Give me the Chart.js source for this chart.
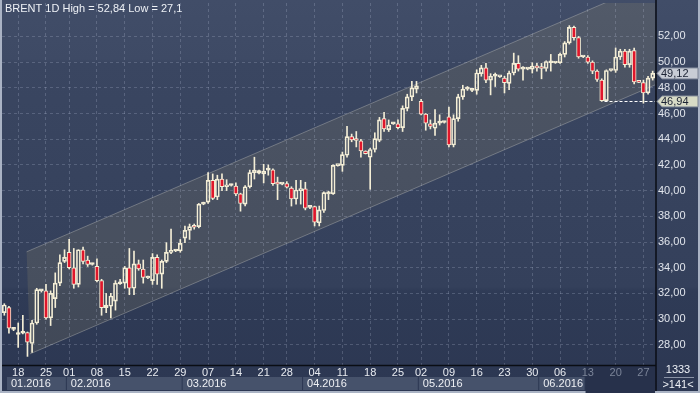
<!DOCTYPE html>
<html><head><meta charset="utf-8">
<script src="https://cdn.jsdelivr.net/npm/chart.js@4"></script>
<style>html,body{margin:0;padding:0;background:#aab3c4;overflow:hidden}canvas{display:block}</style>
</head><body>
<canvas id="c" width="700" height="393"></canvas>
<script>
const openP  = [30.5,30.9,29.2,28.8,28.9,28.95,28.1,29.7,32.2,32.2,30.1,31.6,32.8,34.5,35.2,34.0,32.7,35.4,34.6,34.25,34.1,33.0,30.9,31.0,31.4,32.75,32.8,34.0,32.4,34.3,33.9,33.2,33.0,34.8,33.5,34.5,35.2,35.3,35.3,36.3,36.9,37.2,37.2,38.95,39.1,40.8,39.5,40.9,40.3,40.4,40.35,39.75,38.95,40.3,41.4,41.35,41.3,41.6,41.62,40.55,40.5,40.55,40.2,39.35,40.0,40.13,38.7,38.75,37.5,38.45,39.75,39.75,41.95,41.96,42.75,44.2,43.95,43.87,43.08,42.6,43.2,43.9,45.6,44.75,45.2,45.2,44.9,46.4,47.3,47.9,46.95,45.95,45.2,44.85,45.25,45.3,45.75,43.55,45.6,47.3,47.9,47.8,47.8,49.1,49.55,48.6,48.9,48.85,48.75,48.35,49.15,49.9,49.45,49.45,49.45,49.7,49.6,49.5,49.95,49.93,49.95,50.6,51.5,52.7,51.9,50.4,50.4,50.0,49.3,48.6,47.0,49.35,49.35,50.4,50.85,49.8,50.9,48.45,48.4,47.6,48.75];
const highP  = [31.2,31.0,29.3,29.7,30.3,29.0,29.9,32.4,32.3,32.7,32.2,33.6,35.0,35.4,36.2,35.5,35.4,35.6,34.9,34.35,34.7,33.1,32.0,32.0,33.0,33.1,34.1,35.5,35.3,34.6,34.6,33.35,35.1,35.0,34.6,35.95,37.0,35.4,36.2,37.25,37.4,37.4,39.0,39.1,41.4,41.3,41.2,41.3,40.85,40.5,40.6,39.8,40.4,41.6,42.6,41.6,42.05,42.0,41.7,41.05,40.55,40.7,40.3,40.8,40.8,40.65,38.8,38.8,38.8,39.9,39.95,42.0,42.0,43.0,45.0,44.4,44.6,44.0,43.1,43.3,44.5,45.7,46.1,45.5,45.3,45.5,46.6,47.5,48.5,48.5,47.1,46.0,45.5,46.3,45.9,45.4,46.5,45.9,47.5,48.2,48.1,47.9,49.4,49.75,49.9,49.1,49.15,48.9,48.9,49.3,50.7,50.5,49.65,49.5,49.95,49.9,49.9,50.1,50.6,49.98,50.7,51.6,52.84,52.8,52.0,50.45,50.5,50.1,49.4,48.7,49.4,49.4,51.1,51.0,51.0,51.0,51.1,48.5,48.6,48.9,49.3];
const lowP   = [30.3,28.9,29.1,27.8,28.85,27.1,27.4,29.6,32.1,30.0,29.5,30.9,32.6,34.4,33.9,32.4,32.5,34.3,34.1,34.2,32.9,30.3,30.5,30.1,30.7,32.7,32.4,31.9,31.9,33.8,32.8,33.15,32.7,32.7,32.4,34.4,35.1,35.25,35.2,35.95,36.2,37.0,37.1,38.9,39.0,39.3,39.3,40.0,40.0,40.35,39.6,38.4,38.8,40.2,40.9,41.3,40.6,41.2,40.4,39.3,40.45,40.2,38.8,38.95,38.95,38.5,38.6,37.25,37.25,38.3,39.3,39.7,41.9,41.5,42.6,43.8,43.4,42.6,42.85,40.1,43.0,43.8,44.6,44.6,45.15,44.8,44.6,46.2,47.0,47.6,45.9,44.7,44.8,44.3,45.1,45.25,43.4,43.4,45.4,47.1,47.8,47.7,47.5,48.9,48.4,47.45,48.1,48.8,47.6,47.85,49.0,49.3,48.6,49.4,49.15,49.3,48.7,49.3,49.3,49.9,49.9,50.4,51.4,51.7,50.3,50.35,49.9,49.1,48.5,46.94,46.95,49.3,49.2,50.2,49.6,49.6,48.3,48.4,46.8,47.5,48.6];
const closeP = [31.1,29.3,29.25,28.85,28.95,28.2,29.7,32.3,32.25,30.1,32.0,32.8,34.4,34.8,34.0,32.7,35.4,34.5,34.25,34.3,33.0,30.9,31.1,31.8,32.8,32.8,34.0,32.4,34.3,33.9,33.25,33.3,34.8,33.5,34.5,35.2,35.3,35.35,35.9,36.9,37.2,37.15,38.95,39.0,40.8,39.4,40.9,40.3,40.45,40.45,39.75,39.0,40.3,41.4,41.6,41.55,41.5,41.62,40.55,40.5,40.52,40.26,39.35,40.05,40.13,38.64,38.75,37.55,38.5,39.85,39.82,41.96,41.98,42.8,44.2,43.95,43.9,43.08,42.87,43.2,44.05,45.5,44.8,45.1,45.25,44.9,46.4,47.3,48.0,48.15,45.95,45.25,45.0,45.25,45.3,45.33,43.55,45.6,47.3,47.9,47.95,47.85,49.15,49.55,48.6,48.9,48.95,48.88,48.4,49.15,49.9,49.45,49.5,49.48,49.7,49.55,49.5,50.05,50.0,49.95,50.6,51.5,52.7,51.9,50.4,50.42,50.0,49.3,48.65,47.0,49.35,49.38,50.4,50.85,49.8,50.85,48.45,48.42,47.6,48.75,49.12];

const tickIdx  = [3,9,14,20,26,32,38,44,50,56,61,67,73,79,85,90,96,102,108,114,120,126,132,138];
const tickDays = ['18','25','01','08','15','22','29','07','14','21','28','04','11','18','25','02','09','16','23','30','06','13','20','27'];
const monthNames = ['01.2016','02.2016','03.2016','04.2016','05.2016','06.2016'];
const monthStart = [0,14,39,65,90,116];
const yTicks = [28,30,32,34,36,38,40,42,44,46,48,50,52];
const dimFrom = 126;
const lastPrice = 49.12;
const stopPrice = 46.94;
const stopFrom = 129.6;
const chUpper = [4.82, 35.24];
const chLower = [5.53, 27.29];
const chSlope = 0.1551;

const N = openP.length;
const labels = Array.from({length:N},(_,i)=>{const k=tickIdx.indexOf(i);return k>=0?tickDays[k]:'';});
const bodies = openP.map((o,i)=>[o,closeP[i]]);
const upW = highP.map((h,i)=>[Math.max(openP[i],closeP[i]),h]);
const loW = lowP.map((l,i)=>[l,Math.min(openP[i],closeP[i])]);
const CREAM = '#f4eed6', RED = '#e0162b';

const fmt = v => v.toFixed(2).replace('.',',');

const decor = {
  id:'decor',
  beforeDraw(chart){
    const {ctx, chartArea:a, scales:{x,y}} = chart;
    ctx.save();
    ctx.fillStyle = '#aab3c4'; ctx.fillRect(0,0,700,393);
    const g = ctx.createLinearGradient(0,0,0,393);
    g.addColorStop(0,'#414d68'); g.addColorStop(0.15,'#3e4a65');
    g.addColorStop(0.16,'#3a4661'); g.addColorStop(0.73,'#34405b');
    g.addColorStop(0.74,'#2f3b56'); g.addColorStop(1,'#2c3752');
    ctx.fillStyle = g; ctx.fillRect(2,0,696,391);
    ctx.beginPath();
    ctx.rect(a.left,a.top,a.right-a.left,a.bottom-a.top); ctx.clip();
    const xe = N+2;
    const ux0=x.getPixelForValue(chUpper[0]), uy0=y.getPixelForValue(chUpper[1]);
    const ux1=x.getPixelForValue(xe), uy1=y.getPixelForValue(chUpper[1]+chSlope*(xe-chUpper[0]));
    const lx0=x.getPixelForValue(chLower[0]), ly0=y.getPixelForValue(chLower[1]);
    const lx1=x.getPixelForValue(xe), ly1=y.getPixelForValue(chLower[1]+chSlope*(xe-chLower[0]));
    ctx.beginPath(); ctx.moveTo(ux0,uy0); ctx.lineTo(ux1,uy1); ctx.lineTo(lx1,ly1); ctx.lineTo(lx0,ly0); ctx.closePath();
    ctx.fillStyle='rgba(165,155,110,0.17)'; ctx.fill();
    ctx.strokeStyle='rgba(205,205,200,0.35)'; ctx.lineWidth=1;
    ctx.beginPath(); ctx.moveTo(ux0,uy0); ctx.lineTo(ux1,uy1); ctx.moveTo(lx0,ly0); ctx.lineTo(lx1,ly1); ctx.stroke();
    ctx.restore();
    ctx.save();
    const dx = x.getPixelForValue(dimFrom)-2.3;
    ctx.fillStyle='#27314b'; ctx.fillRect(dx,a.bottom+1,a.right-dx,28);
    ctx.font='11px Arial'; ctx.textBaseline='middle';
    for(let m=0;m<monthNames.length;m++){
      const s = m===0 ? a.left+5 : x.getPixelForValue(monthStart[m])-2.3;
      let e = m<monthNames.length-1 ? x.getPixelForValue(monthStart[m+1])-2.3 : dx;
      ctx.fillStyle='#46526b'; ctx.fillRect(s,377,e-s-1,13);
      ctx.fillStyle='#eef0f4'; ctx.fillText(monthNames[m], s+4, 383.5);
    }
    ctx.restore();
  },
  afterDraw(chart){
    const {ctx, chartArea:a, scales:{x,y}} = chart;
    ctx.save();
    const sy = Math.round(y.getPixelForValue(stopPrice))+0.5;
    ctx.strokeStyle='#ffffff'; ctx.setLineDash([3,2]); ctx.lineWidth=1;
    ctx.beginPath(); ctx.moveTo(x.getPixelForValue(stopFrom),sy); ctx.lineTo(a.right,sy); ctx.stroke();
    ctx.setLineDash([]);
    ctx.strokeStyle='#0a0d14'; ctx.lineWidth=1.5;
    ctx.beginPath(); ctx.moveTo(a.right+1,0); ctx.lineTo(a.right+1,391); ctx.stroke();
    ctx.beginPath(); ctx.moveTo(2,a.bottom+0.5); ctx.lineTo(a.right+1,a.bottom+0.5); ctx.stroke();
    const tag=(v,txt,fill)=>{
      const ty=y.getPixelForValue(v), x0=a.right+2;
      ctx.beginPath(); ctx.moveTo(x0,ty); ctx.lineTo(x0+5,ty-5.5); ctx.lineTo(698,ty-5.5); ctx.lineTo(698,ty+5.5); ctx.lineTo(x0+5,ty+5.5); ctx.closePath();
      ctx.fillStyle=fill; ctx.fill(); ctx.strokeStyle='#7c8496'; ctx.lineWidth=1; ctx.stroke();
      ctx.fillStyle='#1b2233'; ctx.font='11px Arial'; ctx.textBaseline='middle'; ctx.textAlign='left';
      ctx.fillText(txt,x0+4,ty+0.5);
    };
    tag(lastPrice, fmt(lastPrice), '#c8ccd5');
    tag(stopPrice, fmt(stopPrice), '#d8dbc6');
    ctx.fillStyle='#eef1f6'; ctx.font='11px Arial'; ctx.textBaseline='middle'; ctx.textAlign='left';
    ctx.fillText('BRENT 1D High = '+fmt(Math.max(...highP))+' Low = '+String(Math.min(...lowP)).replace('.',','),5,8.5);
    ctx.textAlign='center';
    ctx.fillText('1333',678,370);
    ctx.fillText('>'+N+'<',678,385);
    ctx.strokeStyle='#8a93a6'; ctx.beginPath(); ctx.moveTo(664,377.5); ctx.lineTo(694,377.5); ctx.stroke();
    ctx.restore();
  }
};

new Chart(document.getElementById('c'),{
  type:'bar',
  data:{labels, datasets:[
    {data:upW, backgroundColor:CREAM, barThickness:1, grouped:false, order:2},
    {data:loW, backgroundColor:CREAM, barThickness:1, grouped:false, order:2},
    {data:bodies, backgroundColor:openP.map((o,i)=>closeP[i]>=o?'rgba(0,0,0,0)':RED),
     borderColor:CREAM, borderWidth:1, borderSkipped:false, barThickness:4, minBarLength:2, grouped:false, order:1}
  ]},
  options:{
    responsive:false, animation:false, devicePixelRatio:1,
    layout:{padding:{left:2,right:2,top:3,bottom:1}},
    plugins:{legend:{display:false},tooltip:{enabled:false}},
    scales:{
      x:{
        ticks:{autoSkip:false,maxRotation:0,minRotation:0,padding:1,
          color:c=>c.index>=dimFrom?'#7b8498':'#e8ebf0',
          font:{family:'Arial',size:11}, callback:(v,i)=>labels[i]},
        grid:{offset:false,drawTicks:false,color:c=>labels[c.index]?'rgba(200,210,230,0.22)':'rgba(0,0,0,0)'},
        border:{display:false,dash:[3,3]},
        afterFit:s=>{s.height=27; s.paddingLeft=0; s.paddingRight=0;}
      },
      y:{
        position:'right', min:26.43, max:54.6,
        afterBuildTicks:s=>{s.ticks=yTicks.map(v=>({value:v}));},
        ticks:{color:'#e1e5ec',font:{family:'Arial',size:11},padding:3,callback:v=>fmt(v)},
        grid:{drawTicks:false,color:'rgba(200,210,230,0.22)'},
        border:{display:false,dash:[3,3]},
        afterFit:s=>{s.width=43; s.paddingTop=0; s.paddingBottom=0;}
      }
    }
  },
  plugins:[decor]
});
</script>
</body></html>
